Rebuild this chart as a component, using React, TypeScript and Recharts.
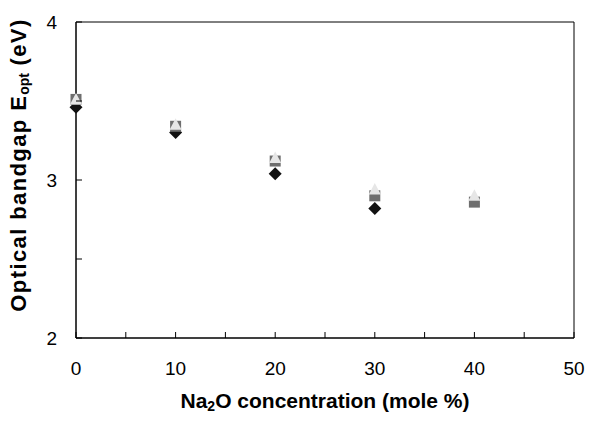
import React from "react";
import {
    ScatterChart,
    Scatter,
    XAxis,
    YAxis,
    ReferenceArea,
} from "recharts";

const concentrations = [0, 10, 20, 30, 40];
const diamondValues = [3.46, 3.3, 3.04, 2.82];
const squareValues = [3.51, 3.34, 3.12, 2.9, 2.86];
const triangleValues = [3.51, 3.35, 3.14, 2.94, 2.9];

const xTicks = [0, 5, 10, 15, 20, 25, 30, 35, 40, 45, 50];
const yTicks = [2, 2.5, 3, 3.5, 4];

const FONT = "'Liberation Sans', Arial, sans-serif";

const toPoints = (vals: number[]) =>
    vals.map((v, i) => ({ x: concentrations[i], y: v }));

const diamondData = toPoints(diamondValues);
const squareData = toPoints(squareValues);
const triangleData = toPoints(triangleValues);

const Diamond = (p: any) => {
    const { cx, cy } = p;
    return (
        <polygon
            points={`${cx},${cy - 6.5} ${cx + 6.5},${cy} ${cx},${cy + 6.5} ${cx - 6.5},${cy}`}
            fill="#111"
        />
    );
};

const Square = (p: any) => {
    const { cx, cy } = p;
    return <rect x={cx - 5.5} y={cy - 5.5} width={11} height={11} fill="#6e6e6e" />;
};

const Triangle = (p: any) => {
    const { cx, cy } = p;
    return (
        <polygon
            points={`${cx},${cy - 6.5} ${cx + 6},${cy + 5} ${cx - 6},${cy + 5}`}
            fill="#e6e6e6"
        />
    );
};

const XTick = (props: any) => {
    const { x, y, payload } = props;
    const v = payload.value;
    return (
        <g>
            <line x1={x} x2={x} y1={y} y2={y - 6} stroke="#000" />
            {v % 10 === 0 && (
                <text x={x} y={y + 37} textAnchor="middle" fontSize={19} fontFamily={FONT} fill="#000">
                    {v}
                </text>
            )}
        </g>
    );
};

const YTick = (props: any) => {
    const { x, y, payload } = props;
    const v = payload.value;
    return (
        <g>
            <line x1={x} x2={x + 6} y1={y} y2={y} stroke="#000" />
            {Number.isInteger(v) && (
                <text x={x - 19} y={y + 7} textAnchor="end" fontSize={19} fontFamily={FONT} fill="#000">
                    {v}
                </text>
            )}
        </g>
    );
};

const XTitle = (props: any) => {
    const { viewBox } = props;
    const cx = viewBox.x + viewBox.width / 2;
    return (
        <text x={cx} y={viewBox.y + 70} textAnchor="middle" fontSize={21} fontWeight="bold" fontFamily={FONT} fill="#000">
            Na
            <tspan fontSize={14} dy={3}>2</tspan>
            <tspan dy={-3}>O concentration (mole %)</tspan>
        </text>
    );
};

const YTitle = () => {
    const cy = 165;
    const tx = 26;
    return (
        <text
            x={tx}
            y={cy}
            transform={`rotate(-90 ${tx} ${cy})`}
            textAnchor="middle"
            fontSize={22}
            fontWeight="bold"
            fontFamily={FONT}
            letterSpacing={1.4}
            fill="#000"
        >
            Optical bandgap E
            <tspan fontSize={14} dy={3} letterSpacing={0}>opt</tspan>
            <tspan dy={-3}> (eV)</tspan>
        </text>
    );
};

const App: React.FC = () => {
    return (
        <div style={{ position: "absolute", left: 0, top: 0, background: "#fff" }}>
            <ScatterChart width={590} height={421} margin={{ top: 22, right: 16, bottom: 0, left: 0 }}>
                <XAxis
                    type="number"
                    dataKey="x"
                    domain={[0, 50]}
                    ticks={xTicks}
                    interval={0}
                    height={83}
                    tickSize={0}
                    tickMargin={0}
                    tickLine={false}
                    axisLine={{ stroke: "#000" }}
                    tick={<XTick />}
                    label={<XTitle />}
                />
                <YAxis
                    type="number"
                    dataKey="y"
                    domain={[2, 4]}
                    ticks={yTicks}
                    interval={0}
                    width={76}
                    tickSize={0}
                    tickMargin={0}
                    tickLine={false}
                    axisLine={{ stroke: "#000" }}
                    tick={<YTick />}
                    label={<YTitle />}
                />
                <ReferenceArea x1={0} x2={50} y1={2} y2={4} fill="none" stroke="#000" ifOverflow="visible" />
                <Scatter data={diamondData} shape={<Diamond />} isAnimationActive={false} />
                <Scatter data={squareData} shape={<Square />} isAnimationActive={false} />
                <Scatter data={triangleData} shape={<Triangle />} isAnimationActive={false} />
            </ScatterChart>
        </div>
    );
};

export default App;
